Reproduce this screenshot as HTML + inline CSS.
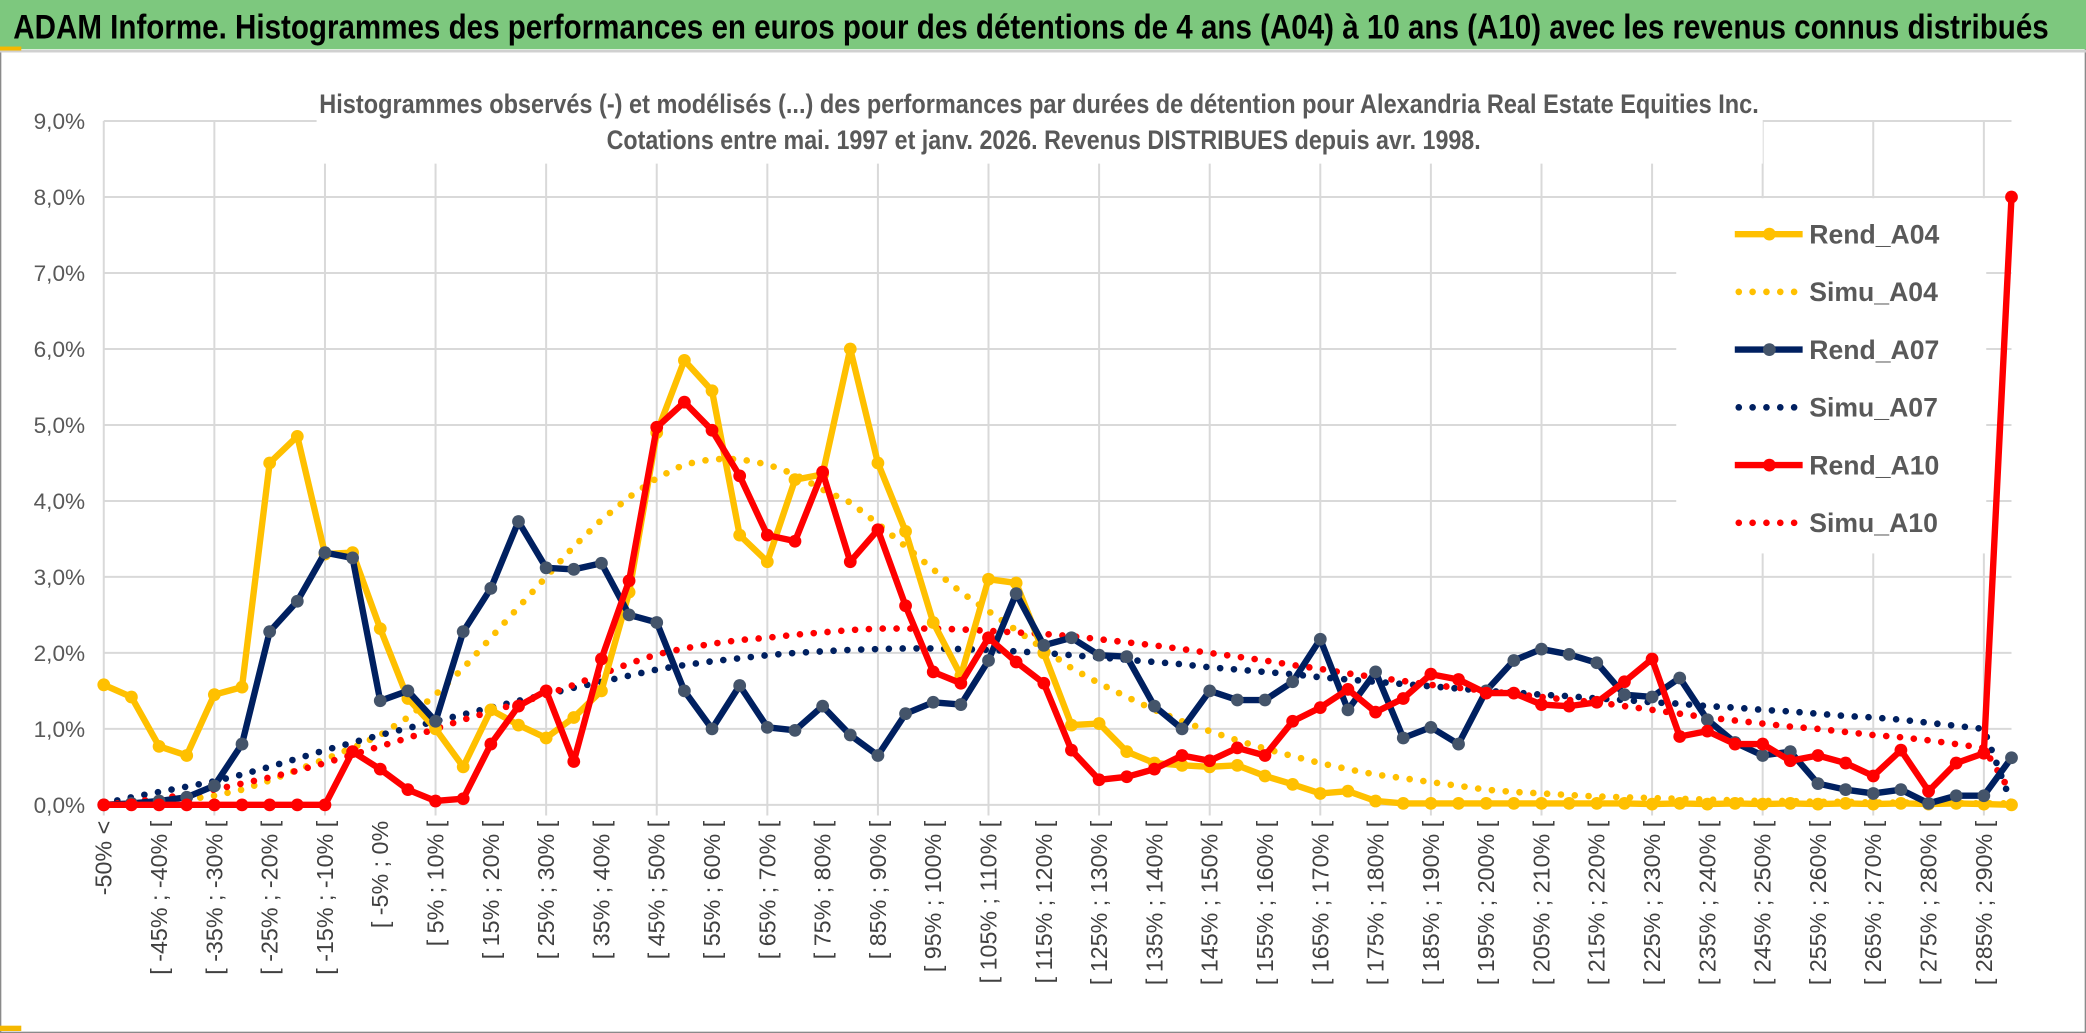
<!DOCTYPE html>
<html><head><meta charset="utf-8"><style>
html,body{margin:0;padding:0;background:#fff;}
svg{display:block;font-family:"Liberation Sans",sans-serif;}
</style></head><body>
<svg id="chart" width="2086" height="1033" viewBox="0 0 1568 776.5" preserveAspectRatio="none" xmlns="http://www.w3.org/2000/svg">
<rect x="0" y="0" width="1568" height="776.5" fill="#fff" stroke="#8a8a8a" stroke-width="2"/>
<rect x="0" y="0" width="1568" height="37" fill="#7DC87E"/>
<line x1="0" y1="38.5" x2="1568" y2="38.5" stroke="#d0d0d0" stroke-width="2"/>
<rect x="0" y="35" width="16" height="3" fill="#f5b800"/>
<rect x="0" y="771" width="16" height="4" fill="#f5b800"/>
<text x="10" y="29" font-size="26" font-weight="bold" fill="#000" textLength="1530" lengthAdjust="spacingAndGlyphs">ADAM Informe. Histogrammes des performances en euros pour des détentions de 4 ans (A04) à 10 ans (A10) avec les revenus connus distribués</text>
<g id="grid"></g>
<rect x="238" y="60" width="1087" height="63" fill="#fff"/>
<rect x="1260" y="149" width="233" height="267" fill="#fff"/>
<text x="240" y="85" font-size="20" font-weight="bold" fill="#595959" textLength="1082" lengthAdjust="spacingAndGlyphs">Histogrammes observés (-) et modélisés (...) des performances par durées de détention pour Alexandria Real Estate Equities Inc.</text>
<text x="456" y="112" font-size="20" font-weight="bold" fill="#595959" textLength="657" lengthAdjust="spacingAndGlyphs">Cotations entre mai. 1997 et janv. 2026. Revenus DISTRIBUES depuis avr. 1998.</text>
<g id="yaxis"></g>
<g id="xaxis"></g>
<g id="series"></g>
<g id="legend"></g>
</svg>
<script>
const rendA04=[1.58,1.42,0.77,0.65,1.45,1.55,4.5,4.85,3.3,3.32,2.32,1.4,1.0,0.5,1.25,1.05,0.88,1.15,1.5,2.8,4.9,5.85,5.45,3.55,3.2,4.28,4.35,6.0,4.5,3.6,2.4,1.7,2.97,2.92,2.0,1.05,1.07,0.7,0.55,0.52,0.5,0.52,0.38,0.27,0.15,0.18,0.05,0.02,0.02,0.02,0.02,0.02,0.02,0.02,0.02,0.02,0.01,0.02,0.01,0.02,0.01,0.02,0.01,0.02,0.01,0.02,0.01,0.02,0.01,0.0];
const simuA04=[0.0,0.02,0.04,0.07,0.12,0.2,0.32,0.46,0.6,0.75,0.92,1.15,1.45,1.8,2.2,2.6,3.0,3.4,3.75,4.05,4.3,4.48,4.55,4.55,4.48,4.35,4.15,3.98,3.7,3.4,3.1,2.8,2.55,2.3,2.05,1.8,1.6,1.42,1.25,1.1,0.97,0.85,0.74,0.64,0.55,0.47,0.4,0.35,0.3,0.25,0.2,0.17,0.15,0.13,0.11,0.1,0.09,0.08,0.07,0.06,0.05,0.05,0.04,0.04,0.03,0.03,0.03,0.02,0.02,0.02];
const rendA07=[0,0.02,0.05,0.1,0.25,0.8,2.28,2.68,3.32,3.25,1.37,1.5,1.1,2.28,2.85,3.73,3.12,3.1,3.18,2.5,2.4,1.5,1.0,1.57,1.02,0.98,1.3,0.92,0.65,1.2,1.35,1.32,1.9,2.78,2.1,2.2,1.97,1.95,1.3,1.0,1.5,1.38,1.38,1.62,2.18,1.25,1.75,0.88,1.02,0.8,1.5,1.9,2.05,1.98,1.87,1.45,1.42,1.67,1.12,0.82,0.65,0.7,0.28,0.2,0.15,0.2,0.02,0.12,0.12,0.62];
const simuA07=[0.02,0.1,0.17,0.24,0.31,0.4,0.5,0.61,0.72,0.82,0.92,1.01,1.1,1.19,1.28,1.37,1.45,1.54,1.62,1.7,1.78,1.84,1.89,1.93,1.97,2.0,2.02,2.04,2.05,2.06,2.06,2.05,2.04,2.02,2.0,1.97,1.94,1.91,1.88,1.85,1.81,1.78,1.75,1.72,1.68,1.65,1.62,1.59,1.56,1.53,1.5,1.48,1.45,1.43,1.4,1.38,1.35,1.33,1.3,1.28,1.25,1.23,1.2,1.17,1.15,1.12,1.08,1.04,1.0,0.02];
const rendA10=[0,0,0,0,0,0,0,0,0,0.7,0.47,0.2,0.05,0.08,0.8,1.3,1.5,0.57,1.92,2.95,4.97,5.3,4.93,4.33,3.55,3.47,4.38,3.2,3.62,2.62,1.75,1.6,2.2,1.88,1.6,0.72,0.33,0.37,0.47,0.65,0.58,0.75,0.65,1.1,1.28,1.52,1.22,1.4,1.72,1.65,1.47,1.47,1.32,1.3,1.35,1.62,1.92,0.9,0.97,0.8,0.8,0.58,0.65,0.55,0.38,0.72,0.18,0.55,0.68,8.0];
const simuA10=[0.0,0.04,0.08,0.14,0.2,0.28,0.36,0.45,0.55,0.66,0.77,0.88,1.0,1.12,1.23,1.34,1.45,1.58,1.72,1.86,1.98,2.06,2.12,2.17,2.2,2.24,2.27,2.3,2.32,2.32,2.32,2.31,2.29,2.27,2.25,2.22,2.18,2.14,2.1,2.05,2.0,1.95,1.9,1.84,1.79,1.73,1.68,1.63,1.58,1.54,1.5,1.46,1.42,1.38,1.35,1.3,1.25,1.2,1.15,1.11,1.07,1.03,1.0,0.96,0.92,0.89,0.85,0.8,0.75,0.15];
const yTicks=[0,1,2,3,4,5,6,7,8,9];
const yTickLabels=["0,0%","1,0%","2,0%","3,0%","4,0%","5,0%","6,0%","7,0%","8,0%","9,0%"];
const categories=["-50% <"];
for(let i=1;i<70;i++){const a=-55+5*i;categories.push("[ "+a+"% ; "+(a+5)+"% [");}
categories[10]="[ -5% ; 0%";

const NS="http://www.w3.org/2000/svg";
const X0=78, X1=1512, Y0=605, Y9=91;
const xs=i=>X0+(X1-X0)*i/69;
const ys=v=>Y0-(Y0-Y9)*v/9;
function mk(tag,attrs,parent){const e=document.createElementNS(NS,tag);for(const k in attrs)e.setAttribute(k,attrs[k]);parent.appendChild(e);return e;}
const grid=document.getElementById('grid');
yTicks.forEach(t=>{const l=mk('line',{x1:X0,x2:X1,y1:ys(t),y2:ys(t),stroke:'#d9d9d9','stroke-width':1.5},grid);

});
for(let i=0;i<70;i+=4){const l=mk('line',{x1:xs(i),x2:xs(i),y1:Y9,y2:Y0+8,stroke:'#d9d9d9','stroke-width':1.5},grid);

}
const ya=document.getElementById('yaxis');
yTicks.forEach((t,k)=>{const e=mk('text',{x:64,y:ys(t)+6,'text-anchor':'end','font-size':17,fill:'#595959'},ya);e.textContent=yTickLabels[k];

});
const xa=document.getElementById('xaxis');
for(let i=0;i<70;i+=2){const x=xs(i)+6,y=617;const e=mk('text',{x:x,y:y,'text-anchor':'end','font-size':17.5,fill:'#404040',transform:`rotate(-90 ${x} ${y})`},xa);e.textContent=categories[i];

}
const ser=document.getElementById('series');
function pts(arr){return arr.map((v,i)=>xs(i).toFixed(1)+','+ys(v).toFixed(1)).join(' ');}
function dotted(arr,color,name){const p=mk('polyline',{points:pts(arr),fill:'none',stroke:color,'stroke-width':5,'stroke-linecap':'round','stroke-dasharray':'0 10.4'},ser);

}
function solid(arr,color,mcolor,name){const g=mk('g',{},ser);


mk('polyline',{points:pts(arr),fill:'none',stroke:color,'stroke-width':4.8,'stroke-linejoin':'round'},g);
arr.forEach((v,i)=>{const c=mk('circle',{cx:xs(i),cy:ys(v),r:4.8,fill:mcolor},g);

});}
dotted(simuA04,'#FFC000','simu-a04-line');
dotted(simuA07,'#002060','simu-a07-line');
dotted(simuA10,'#FF0000','simu-a10-line');
solid(rendA04,'#FFC000','#FFC000','rend-a04-line');
solid(rendA07,'#002060','#44546A','rend-a07-line');
solid(rendA10,'#FF0000','#FF0000','rend-a10-line');
const lg=document.getElementById('legend');
const items=[["Rend_A04","#FFC000","#FFC000",false],["Simu_A04","#FFC000","",true],["Rend_A07","#002060","#44546A",false],["Simu_A07","#002060","",true],["Rend_A10","#FF0000","#FF0000",false],["Simu_A10","#FF0000","",true]];
items.forEach((it,k)=>{const y=176+k*43.4;const g=mk('g',{},lg);


if(it[3]){mk('line',{x1:1307,x2:1352,y1:y,y2:y,stroke:it[1],'stroke-width':5,'stroke-linecap':'round','stroke-dasharray':'0 10.4'},g);}
else{mk('line',{x1:1304,x2:1355,y1:y,y2:y,stroke:it[1],'stroke-width':4.8},g);mk('circle',{cx:1330,cy:y,r:4.8,fill:it[2]},g);}
const t=mk('text',{x:1360,y:y+7,'font-size':20,'font-weight':'bold',fill:'#595959'},g);t.textContent=it[0];});
</script>
</body></html>
